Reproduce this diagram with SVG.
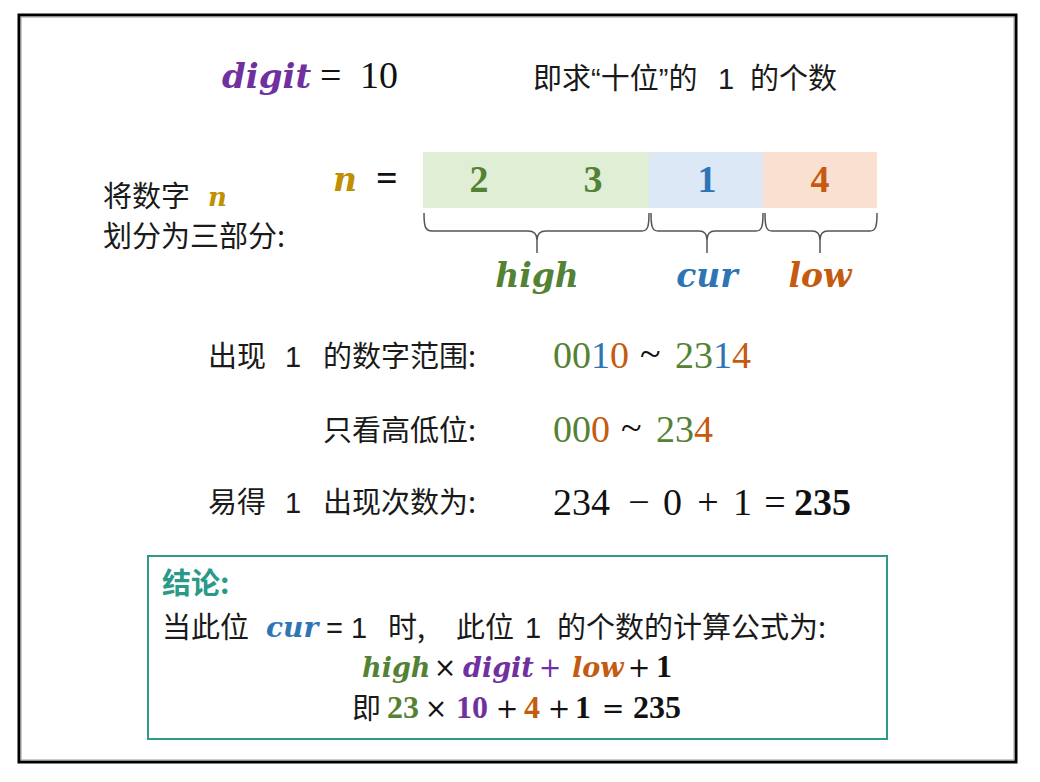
<svg xmlns="http://www.w3.org/2000/svg" width="1040" height="782" viewBox="0 0 1040 782">
<style>
.cjk{font-family:'Noto Sans CJK SC','Noto Sans',sans-serif;font-size:29px;fill:#1a1a1a}
.q{font-family:'Liberation Sans','Noto Sans CJK SC',sans-serif}
.mi{font-family:'DejaVu Serif',serif;font-style:italic;font-weight:bold}
.mn{font-family:'Liberation Serif',serif;font-size:38px;fill:#111}
.ms{font-family:'Liberation Serif',serif;font-size:32px;fill:#111}
.op{font-family:'DejaVu Serif',serif;font-size:27px;fill:#111;text-anchor:middle}
.b{font-weight:bold}
.g{fill:#548235}.bl{fill:#2e75b6}.o{fill:#c55a11}.p{fill:#7030a0}.y{fill:#bf9000}.k{fill:#111}
.brace{fill:none;stroke:#555;stroke-width:1.5}
</style>
<rect width="1040" height="782" fill="#fff"/>
<g id="frame">
<rect x="19" y="15" width="997" height="747" fill="none" stroke="#000" stroke-width="3"/>
<rect x="21" y="17" width="993" height="743" fill="none" stroke="#999" stroke-width="1"/>
</g>
<g id="title">
<text class="mi p" x="222" y="88" font-size="34">digit</text>
<text class="mn" x="320" y="88">=</text>
<text class="mn" x="360" y="88">10</text>
<text class="cjk" x="533" y="89">即求<tspan class="q">“</tspan>十位<tspan class="q">”</tspan>的</text>
<text class="cjk q" x="718" y="89">1</text>
<text class="cjk" x="750" y="89">的个数</text>
</g>
<g id="split-label">
<text class="cjk" x="103" y="207" font-size="28">将数字</text>
<text class="mi y" x="208" y="206" font-size="26">n</text>
<text class="cjk" x="103" y="247" font-size="28">划分为三部分:</text>
<text class="mi y" x="333" y="191" font-size="33">n</text>
<text class="mn b" x="376" y="191">=</text>
</g>
<g id="cell-high">
<rect x="423" y="152" width="226" height="56" fill="#e0eed6"/>
<text class="mn b g" x="479" y="192" text-anchor="middle">2</text>
<text class="mn b g" x="593" y="192" text-anchor="middle">3</text>
</g>
<g id="cell-cur">
<rect x="649" y="152" width="114" height="56" fill="#dce8f5"/>
<text class="mn b bl" x="707" y="192" text-anchor="middle">1</text>
</g>
<g id="cell-low">
<rect x="763" y="152" width="114" height="56" fill="#fae0d1"/>
<text class="mn b o" x="820" y="192" text-anchor="middle">4</text>
</g>
<g id="connectors">
<path class="brace" d="M424 213 C424 226 425 231 432 231 L528 231 C534 231 537 234 537 240 L537 253 M537 240 C537 234 540 231 546 231 L642 231 C648 231 649 226 649 213"/>
<path class="brace" d="M651 213 C651 226 652 231 658 231 L699 231 C705 231 707 234 707 240 L707 253 M707 240 C707 234 709 231 715 231 L756 231 C762 231 763 226 763 213"/>
<path class="brace" d="M765 213 C765 226 766 231 772 231 L812 231 C818 231 820 234 820 240 L820 253 M820 240 C820 234 822 231 828 231 L870 231 C876 231 877 226 877 213"/>
</g>
<g id="labels">
<text class="mi g" x="537" y="287" font-size="33" text-anchor="middle">high</text>
<text class="mi bl" x="707" y="287" font-size="33" text-anchor="middle">cur</text>
<text class="mi o" x="820" y="287" font-size="33" text-anchor="middle">low</text>
</g>
<g id="row-range">
<text class="cjk" x="208" y="367">出现</text>
<text class="cjk q" x="285" y="367">1</text>
<text class="cjk" x="476" y="367" text-anchor="end">的数字范围:</text>
<text class="mn" x="553" y="368"><tspan class="g">00</tspan><tspan class="bl">1</tspan><tspan class="o">0</tspan></text>
<text class="mn" x="640" y="366">~</text>
<text class="mn" x="675" y="368"><tspan class="g">23</tspan><tspan class="bl">1</tspan><tspan class="o">4</tspan></text>
</g>
<g id="row-highlow">
<text class="cjk" x="476" y="441" text-anchor="end">只看高低位:</text>
<text class="mn" x="553" y="442"><tspan class="g">00</tspan><tspan class="o">0</tspan></text>
<text class="mn" x="621" y="440">~</text>
<text class="mn" x="656" y="442"><tspan class="g">23</tspan><tspan class="o">4</tspan></text>
</g>
<g id="row-count">
<text class="cjk" x="208" y="513">易得</text>
<text class="cjk q" x="285" y="513">1</text>
<text class="cjk" x="476" y="513" text-anchor="end">出现次数为:</text>
<text class="mn" x="553" y="515">234</text>
<text class="mn" x="639" y="515" text-anchor="middle">−</text>
<text class="mn" x="663" y="515">0</text>
<text class="mn" x="708" y="515" text-anchor="middle">+</text>
<text class="mn" x="733" y="515">1</text>
<text class="mn" x="775" y="515" text-anchor="middle">=</text>
<text class="mn b" x="794" y="515">235</text>
</g>
<g id="conclusion">
<rect x="148" y="556" width="739" height="183" fill="none" stroke="#2f9a88" stroke-width="2"/>
<text class="cjk b" x="162" y="594" style="fill:#2a9a88">结论:</text>
<text class="cjk" x="162" y="638">当此位</text>
<text class="mi bl" x="266" y="637" font-size="28">cur</text>
<text class="cjk q" x="326" y="638">= 1</text>
<text class="cjk" x="388" y="638">时,</text>
<text class="cjk" x="456" y="638">此位</text>
<text class="cjk q" x="525" y="638">1</text>
<text class="cjk" x="557" y="638">的个数的计算公式为:</text>
<text class="mi g" x="362" y="677" font-size="27">high</text>
<text class="op" x="445" y="677">×</text>
<text class="mi p" x="463" y="677" font-size="27">digit</text>
<text class="op p" x="550" y="677">+</text>
<text class="mi o" x="572" y="677" font-size="27">low</text>
<text class="op" x="639" y="677">+</text>
<text class="ms b" x="656" y="677">1</text>
<text class="cjk" x="352" y="719">即</text>
<text class="ms b g" x="387" y="718">23</text>
<text class="op" x="436" y="718">×</text>
<text class="ms b p" x="456" y="718">10</text>
<text class="op" x="507" y="718">+</text>
<text class="ms b o" x="524" y="718">4</text>
<text class="op" x="559" y="718">+</text>
<text class="ms b" x="575" y="718">1</text>
<text class="op" x="613" y="718">=</text>
<text class="ms b" x="633" y="718">235</text>
</g>
</svg>
